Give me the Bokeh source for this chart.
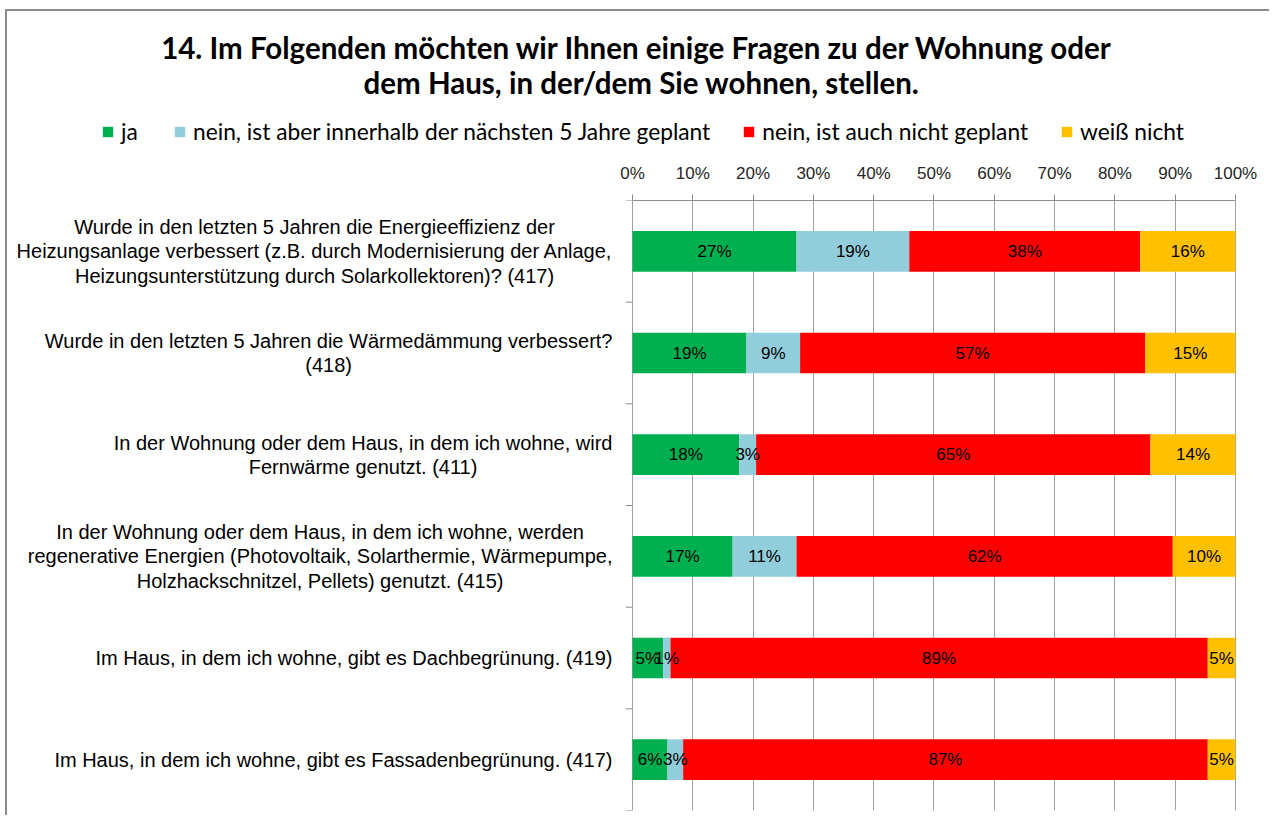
from bokeh.plotting import figure
from bokeh.layouts import column
from bokeh.models import (ColumnDataSource, Range1d, LinearAxis, FixedTicker,
                          PrintfTickFormatter, Legend, LegendItem)
from bokeh.core.properties import value
from bokeh.embed import file_html
from bokeh.resources import INLINE

# ---------------- data ----------------
questions = [
    "Wurde in den letzten 5 Jahren die Energieeffizienz der\nHeizungsanlage verbessert (z.B. durch Modernisierung der Anlage,\nHeizungsunterstützung durch Solarkollektoren)? (417)",
    "Wurde in den letzten 5 Jahren die Wärmedämmung verbessert?\n(418)",
    "In der Wohnung oder dem Haus, in dem ich wohne, wird\nFernwärme genutzt. (411)",
    "In der Wohnung oder dem Haus, in dem ich wohne, werden\nregenerative Energien (Photovoltaik, Solarthermie, Wärmepumpe,\nHolzhackschnitzel, Pellets) genutzt. (415)",
    "Im Haus, in dem ich wohne, gibt es Dachbegrünung. (419)",
    "Im Haus, in dem ich wohne, gibt es Fassadenbegrünung. (417)",
]
series_names = ["ja", "nein, ist aber innerhalb der nächsten 5 Jahre geplant",
                "nein, ist auch nicht geplant", "weiß nicht"]
ja = [27.2, 18.9, 17.7, 16.6, 5.1, 5.8]
geplant = [18.7, 8.9, 2.8, 10.6, 1.2, 2.6]
nicht_geplant = [38.3, 57.2, 65.4, 62.4, 89.1, 87.0]
weiss_nicht = [15.8, 15.0, 14.1, 10.4, 4.6, 4.6]
tick_values = [0, 10, 20, 30, 40, 50, 60, 70, 80, 90, 100]
colors = ["#00B050", "#92CDDC", "#FF0000", "#FFC000"]

title_lines = ["14.  Im Folgenden möchten wir Ihnen einige Fragen zu der Wohnung oder",
               "dem Haus, in der/dem Sie wohnen, stellen."]

W = 1262
TOP_H = 144
MAIN_H = 660

n = len(questions)
ypos = [n - i - 0.5 for i in range(n)]
keys = ["ja", "geplant", "nicht_geplant", "weiss_nicht"]
source = ColumnDataSource(dict(y=ypos, ja=ja, geplant=geplant,
                               nicht_geplant=nicht_geplant, weiss_nicht=weiss_nicht))

# ---------------- header figure: title + legend ----------------
p_top = figure(width=W, height=TOP_H, output_backend="svg", toolbar_location=None,
               x_range=Range1d(0, W), y_range=Range1d(0, TOP_H),
               x_axis_location=None, y_axis_location=None, title_location=None,
               min_border=0)
p_top.outline_line_color = None
p_top.xgrid.grid_line_color = None
p_top.ygrid.grid_line_color = None

p_top.text(x=[633, 634], y=[TOP_H - 36, TOP_H - 71], text=title_lines,
           text_align="center", text_baseline="middle",
           text_font=value("Lato"), text_font_size="29.5px", text_font_style="bold",
           text_color="#000000")

# hidden copies of the series, used only as legend swatches
swatches = [p_top.hbar(y="y", right=k, height=0.4, color=c, line_color=None,
                       source=source, visible=False) for k, c in zip(keys, colors)]
legend = Legend(items=[LegendItem(label=series_names[k], renderers=[swatches[k]]) for k in range(4)],
                orientation="horizontal", location=(94, 10))
legend.spacing = 32
legend.label_standoff = 7
legend.glyph_width = 13
legend.glyph_height = 13
legend.label_text_font = "Lato"
legend.label_text_font_size = "22.75px"
legend.label_text_color = "#000000"
legend.border_line_color = None
legend.background_fill_alpha = 0
legend.inactive_fill_alpha = 0
legend.padding = 4
legend.margin = 0
p_top.add_layout(legend, "center")

# ---------------- main figure ----------------
p = figure(width=W, height=MAIN_H, output_backend="svg", toolbar_location=None,
           x_range=Range1d(-103.65, 105.64), y_range=Range1d(0, n),
           x_axis_location=None, y_axis_location=None, title_location=None,
           min_border_left=0, min_border_right=0, min_border_bottom=5, min_border_top=45)
p.outline_line_color = None

ax = LinearAxis(ticker=FixedTicker(ticks=tick_values),
                formatter=PrintfTickFormatter(format="%d%%"),
                bounds=(0, 100))
ax.axis_line_color = "#8c8c8c"
ax.major_tick_line_color = "#8c8c8c"
ax.major_tick_out = 6
ax.major_tick_in = 0
ax.minor_tick_line_color = None
ax.major_label_standoff = 12
ax.major_label_text_font = "Liberation Sans"
ax.major_label_text_font_size = "17px"
ax.major_label_text_color = "#262626"
p.add_layout(ax, "above")

p.xgrid.ticker = FixedTicker(ticks=tick_values)
p.xgrid.grid_line_color = "#a0a0a0"
p.ygrid.grid_line_color = None

rends = p.hbar_stack(keys, y="y", height=0.4, color=colors, line_color=None, source=source)

# category-boundary tick marks on the value axis origin
bounds_y = list(range(n + 1))
p.segment(x0=[-1.1] * len(bounds_y), x1=[0] * len(bounds_y), y0=bounds_y, y1=bounds_y,
          line_color="#8c8c8c", line_width=1)

# value labels inside bars
lx, ly, lt = [], [], []
for i in range(n):
    left = 0.0
    for arr in (ja, geplant, nicht_geplant, weiss_nicht):
        v = arr[i]
        lx.append(left + v / 2)
        ly.append(ypos[i])
        lt.append(f"{int(v + 0.5)}%")
        left += v
p.text(x=lx, y=ly, text=lt, text_align="center", text_baseline="middle",
       text_font=value("Liberation Sans"), text_font_size="17px", text_color="#000000")

# question labels
p.text(x=[-3.32] * n, y=ypos, text=questions, anchor="center_right", text_align="center",
       text_baseline="middle", text_line_height=1.1,
       text_font=value("Liberation Sans"), text_font_size="20px", text_color="#000000")

# chart-area frame (grey border at top and left, as in the original chart)
layout = column(p_top, p, spacing=0, margin=(9, 0, 0, 5),
                styles={"border-left": "2px solid #8c8c8c", "border-top": "2px solid #8c8c8c"})
open("out.html", "w").write(file_html(layout, INLINE))
